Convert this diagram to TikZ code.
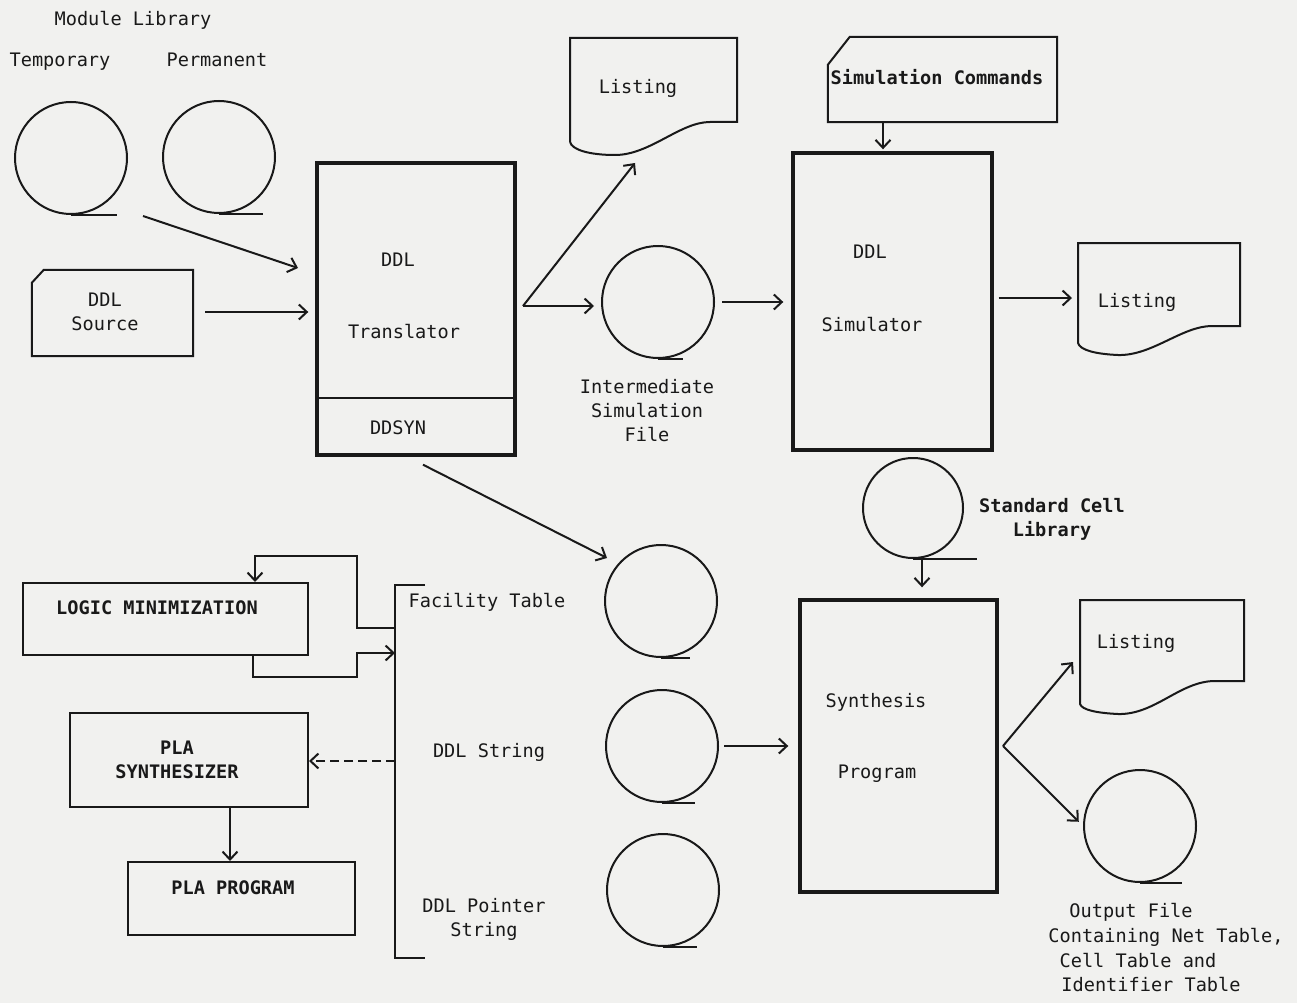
\documentclass[tikz,border=0pt]{standalone}
\usepackage{fontspec}
\setmainfont{DejaVu Sans Mono}
\usetikzlibrary{arrows.meta,calc}
\definecolor{paper}{RGB}{241,241,239}
\definecolor{ink}{RGB}{25,25,25}
\newcommand{\tapeat}[4]{\node[tapeshape,minimum size=#3pt] (#1) at (#2) {}; \draw[ln] (#1.south) -- ++(#4,0);}
\begin{document}
\begin{tikzpicture}[x=1pt,y=-1pt,
  ln/.style={draw=ink,line width=2pt},
  heavy/.style={draw=ink,line width=3.4pt},
  arr/.style={ln,-{Straight Barb[length=8pt,width=15pt]}},
  txt/.style={font=\fontsize{18.6}{24}\selectfont, inner sep=0pt, align=center, text=ink},
  btxt/.style={font=\fontsize{18.6}{24}\selectfont\bfseries, inner sep=0pt, align=center, text=ink},
  tapeshape/.style={circle, ln, inner sep=0pt},
  boxshape/.style={rectangle, inner sep=0pt},
  ]
\fill[paper] (0,0) rectangle (1297,1003);
\useasboundingbox (0,0) rectangle (1297,1003);

% ---------- module library ----------
\node[txt] (mlib) at (133,20) {Module Library};
\node[txt] (tmpl) at (60,62) {Temporary};
\node[txt] (perml) at (217,60) {Permanent};
\tapeat{tmp}{71,158}{112}{46}
\tapeat{perm}{219,157}{112}{44}

% ---------- DDL source card ----------
\node[boxshape,minimum width=161pt,minimum height=86pt] (src) at (112.5,313) {};
\draw[ln] ([yshift=-13pt]src.north west) -- ([xshift=12pt]src.north west) -- (src.north east) -- (src.south east) -- (src.south west) -- cycle;
\node[txt] (srct) at (105,312) {DDL\\Source};

% ---------- translator ----------
\node[boxshape,heavy,minimum width=198pt,minimum height=292pt] (trans) at (416,309) {};
\draw[ln] (trans.west |- 0,398) -- (trans.east |- 0,398);
\node[txt] (transa) at (398,260) {DDL};
\node[txt] (transb) at (404,332) {Translator};
\node[txt] (transc) at (398,428) {DDSYN};

% ---------- top listing ----------
\draw[ln] (570,142) -- (570,38) -- (737,38) -- (737,122) -- (710,122) .. controls (680,122) and (650,155) .. (615,155) .. controls (590,155) and (572,150) .. (570,142);
\node[txt] (lst1) at (638,88) {Listing};

% ---------- intermediate file ----------
\tapeat{itape}{658,302}{112}{25}
\node[txt] (itxt) at (647,411) {Intermediate\\Simulation\\File};

% ---------- simulation commands ----------
\node[boxshape,minimum width=229pt,minimum height=85pt] (simcmd) at (942.5,79.5) {};
\draw[ln] ([yshift=-28pt]simcmd.north west) -- ([xshift=22pt]simcmd.north west) -- (simcmd.north east) -- (simcmd.south east) -- (simcmd.south west) -- cycle;
\node[btxt] (simcmdt) at (937,77) {Simulation Commands};

% ---------- simulator ----------
\node[boxshape,heavy,minimum width=199pt,minimum height=297pt] (sim) at (892.5,301.5) {};
\node[txt] (sima) at (870,252) {DDL};
\node[txt] (simb) at (872,325) {Simulator};

% ---------- right listing ----------
\draw[ln] (1078,343) -- (1078,243) -- (1240,243) -- (1240,326) -- (1212,326) .. controls (1182,326) and (1152,356) .. (1118,355) .. controls (1095,354) and (1080,350) .. (1078,343);
\node[txt] (lst2) at (1137,302) {Listing};

% ---------- standard cell library ----------
\tapeat{stdT}{913,508}{100}{64}
\node[btxt] (stdt) at (1052,519) {Standard Cell\\Library};

% ---------- synthesis program ----------
\node[boxshape,heavy,minimum width=197pt,minimum height=292pt] (synth) at (898.5,746) {};
\node[txt] (syna) at (876,702) {Synthesis};
\node[txt] (synb) at (877,774) {Program};

% ---------- bottom right listing and output file ----------
\draw[ln] (1080,704) -- (1080,600) -- (1244,600) -- (1244,681) -- (1215,681) .. controls (1180,681) and (1155,715) .. (1118,714) .. controls (1097,713) and (1082,710) .. (1080,704);
\node[txt] (lst3) at (1136,643) {Listing};
\tapeat{outT}{1140,826}{112}{42}
\node[txt] (out1) at (1131,912) {Output File};
\node[txt] (out2) at (1166,937) {Containing Net Table,};
\node[txt] (out3) at (1138,961) {Cell Table and};
\node[txt] (out4) at (1151,985) {Identifier Table};

% ---------- tape column ----------
\tapeat{facT}{661,601}{112}{29}
\tapeat{strT}{662,746}{112}{33}
\tapeat{ptrT}{663,890}{112}{34}
\draw[ln] (425,585) -- (395,585) -- (395,958) -- (425,958);
\node[txt] (fac) at (487,602) {Facility Table};
\node[txt] (ddls) at (489,752) {DDL String};
\node[txt] (ddlp) at (484,919) {DDL Pointer\\String};

% ---------- left boxes ----------
\node[boxshape,ln,minimum width=285pt,minimum height=72pt] (lm) at (165.5,619) {};
\node[btxt] (lmt) at (157,608) {LOGIC MINIMIZATION};
\node[boxshape,ln,minimum width=238pt,minimum height=94pt] (pla) at (189,760) {};
\node[btxt] (plat) at (177,760) {PLA\\SYNTHESIZER};
\node[boxshape,ln,minimum width=227pt,minimum height=73pt] (prog) at (241.5,898.5) {};
\node[btxt] (progt) at (233,888) {PLA PROGRAM};

% ---------- coordinates for connector ends ----------
\coordinate (mlout) at (143,216);
\coordinate (mlin) at (298,268);
\coordinate (tsplit) at (523,306);
\coordinate (lst1in) at (635,163);
\coordinate (lst2in) at (1072,298);
\coordinate (ssplit) at (1003,746);
\coordinate (lst3in) at (1073,662);
\coordinate (fbOut) at (395,628);
\coordinate (lmIn) at (395,653);
\coordinate (plaOut) at (395,761);

% ---------- connectors ----------
\draw[arr] (mlout) -- (mlin);
\draw[arr, shorten <=12pt, shorten >=7pt] (src.east |- 0,312) -- (trans.west |- 0,312);
\draw[arr] (tsplit) -- (lst1in);
\draw[arr, shorten >=7pt] (tsplit) -- (itape.west |- tsplit);
\draw[arr, shorten <=7pt, shorten >=8pt] (itape.east) -- (sim.west |- itape.east);
\draw[arr, shorten >=2pt] (simcmd.south -| 883,0) -- (sim.north -| 883,0);
\draw[arr, shorten <=5pt] (sim.east |- lst2in) -- (lst2in);
\draw[arr] ($(trans.south)+(7,8)$) -- ($(facT)+(-54,-43)$);
\draw[arr, shorten <=5pt, shorten >=10pt] (strT.east) -- (synth.west |- strT.east);
\draw[arr, shorten >=11pt] (stdT.south -| 922,0) -- (synth.north -| 922,0);
\draw[arr] (ssplit) -- (lst3in);
\draw[arr, shorten >=6pt] (ssplit) -- (outT.west);
\draw[arr] (fbOut) -| (357,556) -| (lm.north -| 255,0);
\draw[arr] (lm.south -| 253,0) |- (357,677) |- (lmIn);
\draw[arr, dash pattern=on 9pt off 5pt] (plaOut) -- (pla.east |- plaOut);
\draw[arr] (pla.south -| 230,0) -- (prog.north -| 230,0);
\end{tikzpicture}
\end{document}
